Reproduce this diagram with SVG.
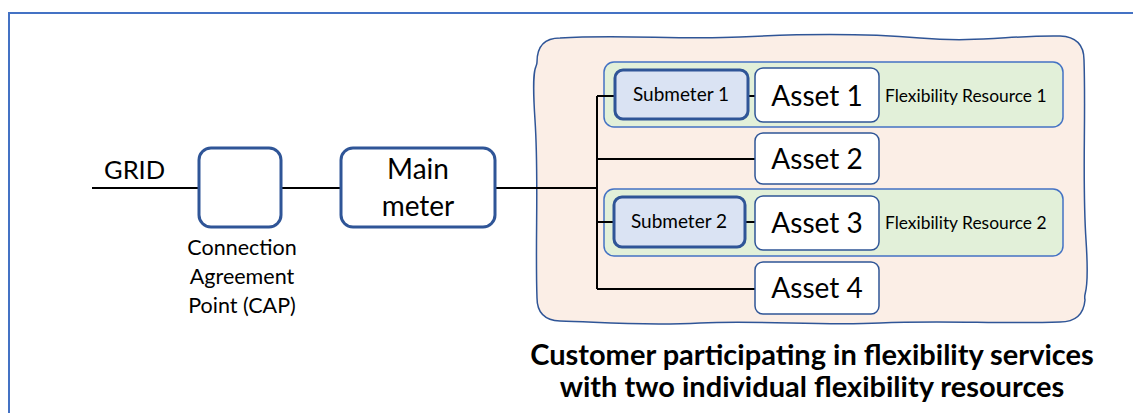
<svg xmlns="http://www.w3.org/2000/svg" width="1133" height="413" viewBox="0 0 1133 413">
<style>
.frame{fill:none;stroke:#4472C4;stroke-width:2}
.box{fill:#fff;stroke:#2F5597;stroke-width:3}
.asset{fill:#fff;stroke:#2F5597;stroke-width:1.5}
.sub{fill:#DAE3F3;stroke:#2F5597;stroke-width:3}
.fr{fill:#E2F0D9;stroke:#4472C4;stroke-width:1.5}
.cust{fill:#FBEEE6;stroke:#2F5597;stroke-width:1.5}
.wire{fill:none;stroke:#000;stroke-width:2}
text{font-family:Lato,"Liberation Sans",sans-serif;fill:#000}
.big{font-size:28px;text-anchor:middle}
.mid{font-size:28px;text-anchor:middle}
.sm{font-size:21.5px;text-anchor:middle}
.subt{font-size:19px;text-anchor:middle}
.frt{font-size:17.4px}
.title{font-size:29px;font-weight:bold;text-anchor:middle}
</style>
<rect width="1133" height="413" fill="#fff"/>
<path class="frame" d="M9 413 V13 H1133"/>
<g id="customer">
<path class="cust" d="M560 38 C620 34 680 40 740 37 S860 33 920 38 S1010 35 1060 36 Q1084 37 1084 60 C1086 120 1082 180 1086 240 S1083 290 1085 300 Q1083 322 1060 322 C1000 324 940 320 880 323 S760 320 700 323 S600 322 560 321 Q537 320 537 298 C535 240 539 180 535 120 S537 70 537 62 Q537 38 560 38 Z"/>
<text class="title" x="812" y="365">Customer participating in flexibility services</text>
<text class="title" x="812" y="397">with two individual flexibility resources</text>
</g>
<g id="fr1">
<rect class="fr" x="604" y="62" width="459" height="65" rx="10"/>
<text class="frt" x="885" y="102">Flexibility Resource 1</text>
</g>
<g id="fr2">
<rect class="fr" x="604" y="189" width="459" height="67" rx="10"/>
<text class="frt" x="885" y="229">Flexibility Resource 2</text>
</g>
<g id="connectors">
<path class="wire" d="M92 188 H199 M281 188 H341 M495 188 H597 M597 96 V289 M597 96 H615 M597 159 H755 M597 222 H614 M597 289 H755 M748 96 H755 M745 222 H755"/>
</g>
<g id="grid"><text x="104" y="179" style="font-size:25.5px">GRID</text></g>
<g id="cap">
<rect class="box" x="199" y="148" width="82" height="79" rx="12"/>
<text class="sm" x="242" y="255">Connection</text>
<text class="sm" x="242" y="284">Agreement</text>
<text class="sm" x="242" y="313">Point (CAP)</text>
</g>
<g id="mainmeter">
<rect class="box" x="341" y="148" width="154" height="79" rx="12"/>
<text class="mid" x="418" y="179">Main</text>
<text class="mid" x="418" y="216">meter</text>
</g>
<g id="submeter1">
<rect class="sub" x="615" y="70" width="133" height="49" rx="8"/>
<text class="subt" x="681" y="101">Submeter 1</text>
</g>
<g id="asset1">
<rect class="asset" x="755" y="68" width="124" height="54" rx="8"/>
<text class="big" x="817" y="106">Asset 1</text>
</g>
<g id="asset2">
<rect class="asset" x="755" y="133" width="124" height="51" rx="8"/>
<text class="big" x="817" y="169">Asset 2</text>
</g>
<g id="submeter2">
<rect class="sub" x="614" y="197" width="131" height="50" rx="8"/>
<text class="subt" x="679" y="228">Submeter 2</text>
</g>
<g id="asset3">
<rect class="asset" x="755" y="196" width="124" height="54" rx="8"/>
<text class="big" x="817" y="233">Asset 3</text>
</g>
<g id="asset4">
<rect class="asset" x="755" y="262" width="124" height="52" rx="8"/>
<text class="big" x="817" y="298">Asset 4</text>
</g>
</svg>
